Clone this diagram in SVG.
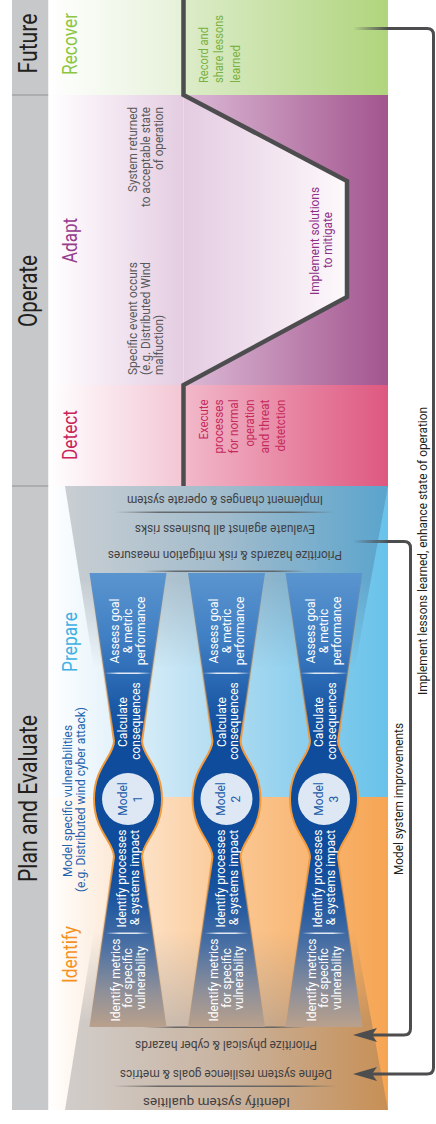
<svg xmlns="http://www.w3.org/2000/svg" width="436" height="1124" viewBox="0 0 436 1124">
<style>
text { font-family: Roboto, "Liberation Sans", Arial, sans-serif; }
.hd { font-size:25px; fill:#231f20; }
.sub { font-size:20px; }
.b { font-size:12.5px; }
.gray { fill:#58595b; }
.wt { fill:#ffffff; font-size:12px; }
.band { font-size:12.5px; fill:#414042; }
.mdl { fill:#1c5ba8; font-size:12px; }
.lbl { font-size:12px; fill:#231f20; }
.conn { fill:none; stroke:#4d4d4f; stroke-width:3; }
</style>
<defs>
  <linearGradient id="gRecL" gradientUnits="userSpaceOnUse" x1="48" y1="0" x2="183" y2="0"><stop offset="0" stop-color="#ffffff"/><stop offset="1" stop-color="#e6f1d9"/></linearGradient>
  <linearGradient id="gRecR" gradientUnits="userSpaceOnUse" x1="183" y1="0" x2="388" y2="0"><stop offset="0" stop-color="#dcecc9"/><stop offset="1" stop-color="#b0d57d"/></linearGradient>
  <linearGradient id="gAdL" gradientUnits="userSpaceOnUse" x1="48" y1="0" x2="183" y2="0"><stop offset="0" stop-color="#ffffff"/><stop offset="0.3" stop-color="#f8f0f7"/><stop offset="1" stop-color="#e4cce1"/></linearGradient>
  <linearGradient id="gAdN" gradientUnits="userSpaceOnUse" x1="183" y1="0" x2="347" y2="0"><stop offset="0" stop-color="#e4cbe1"/><stop offset="1" stop-color="#fdf9fc"/></linearGradient>
  <linearGradient id="gAdR" gradientUnits="userSpaceOnUse" x1="183" y1="0" x2="388" y2="0"><stop offset="0" stop-color="#dcbad6"/><stop offset="1" stop-color="#a3558e"/></linearGradient>
  <linearGradient id="gDetL" gradientUnits="userSpaceOnUse" x1="48" y1="0" x2="183" y2="0"><stop offset="0" stop-color="#ffffff"/><stop offset="1" stop-color="#f3c6d4"/></linearGradient>
  <linearGradient id="gDetR" gradientUnits="userSpaceOnUse" x1="183" y1="0" x2="388" y2="0"><stop offset="0" stop-color="#f2b9ca"/><stop offset="1" stop-color="#de5880"/></linearGradient>
  <linearGradient id="gBlue" gradientUnits="userSpaceOnUse" x1="48" y1="0" x2="388" y2="0"><stop offset="0" stop-color="#ffffff"/><stop offset="0.15" stop-color="#eaf5fb"/><stop offset="0.5" stop-color="#b2dcf1"/><stop offset="1" stop-color="#68c2ea"/></linearGradient>
  <linearGradient id="gOrange" gradientUnits="userSpaceOnUse" x1="48" y1="0" x2="388" y2="0"><stop offset="0" stop-color="#ffffff"/><stop offset="0.15" stop-color="#fdeee0"/><stop offset="0.5" stop-color="#fbcb9a"/><stop offset="1" stop-color="#f6a553"/></linearGradient>
  <linearGradient id="gFunTop" gradientUnits="userSpaceOnUse" x1="65" y1="0" x2="388" y2="0"><stop offset="0" stop-color="#c9ced2"/><stop offset="0.5" stop-color="#a0bbcc"/><stop offset="1" stop-color="#5aa4cd"/></linearGradient>
  <linearGradient id="gFunBot" gradientUnits="userSpaceOnUse" x1="65" y1="0" x2="388" y2="0"><stop offset="0" stop-color="#d1cdcb"/><stop offset="0.5" stop-color="#c9b39f"/><stop offset="1" stop-color="#c78f55"/></linearGradient>
  <linearGradient id="gMT" gradientUnits="userSpaceOnUse" x1="0" y1="486" x2="0" y2="700"><stop offset="0" stop-color="#fff"/><stop offset="0.44" stop-color="#fff"/><stop offset="0.85" stop-color="#000"/></linearGradient>
  <linearGradient id="gMB" gradientUnits="userSpaceOnUse" x1="0" y1="1110" x2="0" y2="900"><stop offset="0" stop-color="#fff"/><stop offset="0.42" stop-color="#fff"/><stop offset="0.85" stop-color="#000"/></linearGradient>
  <mask id="mT" maskUnits="userSpaceOnUse" x="0" y="480" width="436" height="230"><rect x="0" y="480" width="436" height="230" fill="url(#gMT)"/></mask>
  <mask id="mB" maskUnits="userSpaceOnUse" x="0" y="890" width="436" height="230"><rect x="0" y="890" width="436" height="230" fill="url(#gMB)"/></mask>
  <linearGradient id="gCol" gradientUnits="userSpaceOnUse" x1="0" y1="573" x2="0" y2="1027">
    <stop offset="0" stop-color="#5b95cf"/><stop offset="0.15" stop-color="#3f7ec3"/><stop offset="0.3" stop-color="#1a58a6"/><stop offset="0.36" stop-color="#0f4c9c"/><stop offset="0.64" stop-color="#0f4c9c"/><stop offset="0.72" stop-color="#1d56a0"/><stop offset="0.82" stop-color="#4a70a4"/><stop offset="0.92" stop-color="#8e8f99"/><stop offset="1" stop-color="#b9a18c"/>
  </linearGradient>
  <linearGradient id="gColS" gradientUnits="userSpaceOnUse" x1="0" y1="573" x2="0" y2="1027">
    <stop offset="0" stop-color="#f39a3a" stop-opacity="0"/><stop offset="0.28" stop-color="#f39a3a" stop-opacity="0.5"/><stop offset="0.36" stop-color="#f39a3a" stop-opacity="1"/><stop offset="0.64" stop-color="#f39a3a" stop-opacity="1"/><stop offset="0.72" stop-color="#f39a3a" stop-opacity="0.5"/><stop offset="1" stop-color="#f39a3a" stop-opacity="0"/>
  </linearGradient>
  <linearGradient id="gSep" x1="0" y1="0" x2="1" y2="0"><stop offset="0" stop-color="#58595b" stop-opacity="0"/><stop offset="0.2" stop-color="#58595b" stop-opacity="0.85"/><stop offset="0.8" stop-color="#58595b" stop-opacity="0.85"/><stop offset="1" stop-color="#58595b" stop-opacity="0"/></linearGradient>
  <linearGradient id="gDiv" x1="0" y1="0" x2="1" y2="0"><stop offset="0" stop-color="#ffffff" stop-opacity="0"/><stop offset="0.3" stop-color="#ffffff" stop-opacity="0.85"/><stop offset="0.7" stop-color="#ffffff" stop-opacity="0.85"/><stop offset="1" stop-color="#ffffff" stop-opacity="0"/></linearGradient>
  <linearGradient id="gFade" gradientUnits="userSpaceOnUse" x1="353" y1="0" x2="388" y2="0"><stop offset="0" stop-color="#4d4d4f" stop-opacity="0"/><stop offset="1" stop-color="#4d4d4f" stop-opacity="1"/></linearGradient>
  <marker id="arr" markerUnits="userSpaceOnUse" markerWidth="30" markerHeight="20" viewBox="-14 -10 30 20" refX="0" refY="0" orient="auto"><path d="M12,0 L-12,-7 L-7,0 L-12,7 Z" fill="#4d4d4f"/></marker>
  <path id="colShape" d="M -38.5,573 L 38.5,573 L 14,741 C 14,756 34,767 34,799 C 34,831 14,842 14,857 L 38.5,1027 L -38.5,1027 L -14,857 C -14,842 -34,831 -34,799 C -34,767 -14,756 -14,741 Z"/>
</defs>

<g id="header">
  <rect x="12" y="0" width="36.5" height="1110" fill="#c7c8ca"/>
  <rect x="12" y="94.5" width="36.5" height="1" fill="#8f9194"/>
  <rect x="12" y="485.5" width="36.5" height="1" fill="#8f9194"/>
  <text class="hd" transform="translate(37,43.5) rotate(-90)" text-anchor="middle" textLength="60" lengthAdjust="spacingAndGlyphs">Future</text>
  <text class="hd" transform="translate(37,291) rotate(-90)" text-anchor="middle" textLength="72" lengthAdjust="spacingAndGlyphs">Operate</text>
  <text class="hd" transform="translate(37,798.5) rotate(-90)" text-anchor="middle" textLength="167" lengthAdjust="spacingAndGlyphs">Plan and Evaluate</text>
</g>

<g id="recover">
  <rect x="48.5" y="0" width="135" height="95" fill="url(#gRecL)"/>
  <rect x="183.5" y="0" width="204.5" height="95" fill="url(#gRecR)"/>
  <text class="sub" fill="#8cc63f" transform="translate(76.5,75) rotate(-90)" textLength="62" lengthAdjust="spacingAndGlyphs">Recover</text>
  <g class="b" fill="#78b244">
    <text transform="translate(207.5,83) rotate(-90)" textLength="56" lengthAdjust="spacingAndGlyphs">Record and</text>
    <text transform="translate(223,83) rotate(-90)" textLength="68" lengthAdjust="spacingAndGlyphs">share lessons</text>
    <text transform="translate(239.5,83) rotate(-90)" textLength="38" lengthAdjust="spacingAndGlyphs">learned</text>
  </g>
</g>

<g id="adapt">
  <rect x="48.5" y="95" width="135" height="290" fill="url(#gAdL)"/>
  <polygon points="183.5,95 347,181 347,297 183.5,385" fill="url(#gAdN)"/>
  <polygon points="183.5,95 388,95 388,385 183.5,385 347,297 347,181" fill="url(#gAdR)"/>
  <text class="sub" fill="#973b8c" transform="translate(76.5,263) rotate(-90)" textLength="45" lengthAdjust="spacingAndGlyphs">Adapt</text>
  <g class="b gray">
    <text transform="translate(137,107) rotate(-90)" text-anchor="end" textLength="85" lengthAdjust="spacingAndGlyphs">System returned</text>
    <text transform="translate(150,107) rotate(-90)" text-anchor="end" textLength="100" lengthAdjust="spacingAndGlyphs">to acceptable state</text>
    <text transform="translate(163,107) rotate(-90)" text-anchor="end" textLength="63" lengthAdjust="spacingAndGlyphs">of operation</text>
    <text transform="translate(137,375) rotate(-90)" textLength="113" lengthAdjust="spacingAndGlyphs">Specific event occurs</text>
    <text transform="translate(150,375) rotate(-90)" textLength="113" lengthAdjust="spacingAndGlyphs">(e.g. Distributed Wind</text>
    <text transform="translate(163,375) rotate(-90)" textLength="60" lengthAdjust="spacingAndGlyphs">malfuction)</text>
  </g>
  <g class="b" fill="#8d2f85">
    <text transform="translate(319,241) rotate(-90)" text-anchor="middle" textLength="108" lengthAdjust="spacingAndGlyphs">Implement solutions</text>
    <text transform="translate(332,240) rotate(-90)" text-anchor="middle" textLength="56" lengthAdjust="spacingAndGlyphs">to mitigate</text>
  </g>
</g>

<g id="detect">
  <rect x="48.5" y="385" width="135" height="101" fill="url(#gDetL)"/>
  <rect x="183.5" y="385" width="204.5" height="101" fill="url(#gDetR)"/>
  <text class="sub" fill="#c9235b" transform="translate(76.5,460) rotate(-90)" textLength="50" lengthAdjust="spacingAndGlyphs">Detect</text>
  <g class="b" fill="#c52a5d" text-anchor="end">
    <text transform="translate(207.5,399.5) rotate(-90)" textLength="40" lengthAdjust="spacingAndGlyphs">Execute</text>
    <text transform="translate(222.9,399.5) rotate(-90)" textLength="54" lengthAdjust="spacingAndGlyphs">processes</text>
    <text transform="translate(238.3,399.5) rotate(-90)" textLength="54" lengthAdjust="spacingAndGlyphs">for normal</text>
    <text transform="translate(253.7,399.5) rotate(-90)" textLength="47" lengthAdjust="spacingAndGlyphs">operation</text>
    <text transform="translate(269.1,399.5) rotate(-90)" textLength="54" lengthAdjust="spacingAndGlyphs">and threat</text>
    <text transform="translate(284.5,399.5) rotate(-90)" textLength="52" lengthAdjust="spacingAndGlyphs">detetction</text>
  </g>
</g>

<g id="resilience-curve">
  <polyline points="183.5,0 183.5,95 347,181 347,297 183.5,385 183.5,486" fill="none" stroke="#4d4d4f" stroke-width="4.5"/>
</g>

<g id="plan-evaluate">
  <rect x="48.5" y="486" width="339.5" height="311" fill="url(#gBlue)"/>
  <rect x="48.5" y="797" width="339.5" height="313" fill="url(#gOrange)"/>
  <polygon points="65,486 388,486 349,700 99,700" fill="url(#gFunTop)" mask="url(#mT)"/>
  <polygon points="65,1110 388,1110 349,900 99,900" fill="url(#gFunBot)" mask="url(#mB)"/>
  <rect x="115" y="511.5" width="220" height="1.5" fill="url(#gSep)"/>
  <rect x="143" y="570.5" width="164" height="1.5" fill="url(#gSep)"/>
  <rect x="143" y="1026.5" width="164" height="1.5" fill="url(#gSep)"/>
  <rect x="113" y="1085.5" width="224" height="1.5" fill="url(#gSep)"/>
  <text class="sub" fill="#3eb1e2" transform="translate(76.5,672) rotate(-90)" textLength="60" lengthAdjust="spacingAndGlyphs">Prepare</text>
  <text class="sub" fill="#f5921e" transform="translate(76.5,983) rotate(-90)" textLength="57" lengthAdjust="spacingAndGlyphs">Identify</text>
  <g class="b" fill="#1f62ad" text-anchor="middle">
    <text transform="translate(72,801) rotate(-90)" textLength="152" lengthAdjust="spacingAndGlyphs">Model specific vulnerabilities</text>
    <text transform="translate(85,799.5) rotate(-90)" textLength="185" lengthAdjust="spacingAndGlyphs">(e.g. Distributed wind cyber attack)</text>
  </g>
  <g class="band" text-anchor="middle">
    <text transform="translate(225,496) rotate(180)" textLength="196" lengthAdjust="spacingAndGlyphs">Implement changes &amp; operate system</text>
    <text transform="translate(225,524.5) rotate(180)" textLength="180" lengthAdjust="spacingAndGlyphs">Evaluate against all business risks</text>
    <text transform="translate(225,551) rotate(180)" textLength="234" lengthAdjust="spacingAndGlyphs">Prioritize hazards &amp; risk mitigation measures</text>
    <text transform="translate(226,1041) rotate(180)" textLength="182" lengthAdjust="spacingAndGlyphs">Prioritize physical &amp; cyber hazards</text>
    <text transform="translate(226,1069.5) rotate(180)" textLength="212" lengthAdjust="spacingAndGlyphs">Define system resilience goals &amp; metrics</text>
    <text transform="translate(216.5,1097.5) rotate(180)" textLength="147" lengthAdjust="spacingAndGlyphs">Identify system qualities</text>
  </g>
</g>

<g id="model-1" transform="translate(128,0)">
  <use href="#colShape" fill="url(#gCol)" stroke="url(#gColS)" stroke-width="2"/>
  <rect x="-24" y="672.5" width="48" height="1.5" fill="url(#gDiv)"/>
  <rect x="-22" y="932.5" width="44" height="1.5" fill="url(#gDiv)"/>
  <circle cx="0" cy="799" r="26" fill="#dde8f4"/>
  <g class="wt" text-anchor="middle">
    <text transform="translate(-9,631) rotate(-90)">Assess goal</text>
    <text transform="translate(4,631) rotate(-90)">&amp; metric</text>
    <text transform="translate(17,631) rotate(-90)">performance</text>
    <text transform="translate(-1,722) rotate(-90)">Calculate</text>
    <text transform="translate(11.5,721) rotate(-90)">consequences</text>
    <text transform="translate(-2,878.5) rotate(-90)">Identify processes</text>
    <text transform="translate(11,877.5) rotate(-90)">&amp; systems impact</text>
    <text transform="translate(-8.5,980) rotate(-90)">Identify metrics</text>
    <text transform="translate(4,978) rotate(-90)">for specific</text>
    <text transform="translate(16.5,978) rotate(-90)">vulnerability</text>
  </g>
  <g class="mdl" text-anchor="middle">
    <text transform="translate(-1.5,799) rotate(-90)">Model</text>
    <text transform="translate(13.5,799) rotate(-90)">1</text>
  </g>
</g>

<g id="model-2" transform="translate(226.5,0)">
  <use href="#colShape" fill="url(#gCol)" stroke="url(#gColS)" stroke-width="2"/>
  <rect x="-24" y="672.5" width="48" height="1.5" fill="url(#gDiv)"/>
  <rect x="-22" y="932.5" width="44" height="1.5" fill="url(#gDiv)"/>
  <circle cx="0" cy="799" r="26" fill="#dde8f4"/>
  <g class="wt" text-anchor="middle">
    <text transform="translate(-9,631) rotate(-90)">Assess goal</text>
    <text transform="translate(4,631) rotate(-90)">&amp; metric</text>
    <text transform="translate(17,631) rotate(-90)">performance</text>
    <text transform="translate(-1,722) rotate(-90)">Calculate</text>
    <text transform="translate(11.5,721) rotate(-90)">consequences</text>
    <text transform="translate(-2,878.5) rotate(-90)">Identify processes</text>
    <text transform="translate(11,877.5) rotate(-90)">&amp; systems impact</text>
    <text transform="translate(-8.5,980) rotate(-90)">Identify metrics</text>
    <text transform="translate(4,978) rotate(-90)">for specific</text>
    <text transform="translate(16.5,978) rotate(-90)">vulnerability</text>
  </g>
  <g class="mdl" text-anchor="middle">
    <text transform="translate(-1.5,799) rotate(-90)">Model</text>
    <text transform="translate(13.5,799) rotate(-90)">2</text>
  </g>
</g>

<g id="model-3" transform="translate(324,0)">
  <use href="#colShape" fill="url(#gCol)" stroke="url(#gColS)" stroke-width="2"/>
  <rect x="-24" y="672.5" width="48" height="1.5" fill="url(#gDiv)"/>
  <rect x="-22" y="932.5" width="44" height="1.5" fill="url(#gDiv)"/>
  <circle cx="0" cy="799" r="26" fill="#dde8f4"/>
  <g class="wt" text-anchor="middle">
    <text transform="translate(-9,631) rotate(-90)">Assess goal</text>
    <text transform="translate(4,631) rotate(-90)">&amp; metric</text>
    <text transform="translate(17,631) rotate(-90)">performance</text>
    <text transform="translate(-1,722) rotate(-90)">Calculate</text>
    <text transform="translate(11.5,721) rotate(-90)">consequences</text>
    <text transform="translate(-2,878.5) rotate(-90)">Identify processes</text>
    <text transform="translate(11,877.5) rotate(-90)">&amp; systems impact</text>
    <text transform="translate(-8.5,980) rotate(-90)">Identify metrics</text>
    <text transform="translate(4,978) rotate(-90)">for specific</text>
    <text transform="translate(16.5,978) rotate(-90)">vulnerability</text>
  </g>
  <g class="mdl" text-anchor="middle">
    <text transform="translate(-1.5,799) rotate(-90)">Model</text>
    <text transform="translate(13.5,799) rotate(-90)">3</text>
  </g>
</g>

<g id="connectors">
  <rect x="353" y="27" width="35" height="3" fill="url(#gFade)"/>
  <path class="conn" d="M 388 28.5 H 427 Q 433.5 28.5 433.5 35 V 1067.5 Q 433.5 1074 427 1074 H 365" marker-end="url(#arr)"/>
  <rect x="353" y="540" width="35" height="3" fill="url(#gFade)"/>
  <path class="conn" d="M 388 541.5 H 404 Q 410.5 541.5 410.5 548 V 1028.5 Q 410.5 1035 404 1035 H 365" marker-end="url(#arr)"/>
  <text class="lbl" transform="translate(426.5,551) rotate(-90)" text-anchor="middle" textLength="288" lengthAdjust="spacingAndGlyphs">Implement lessons learned, enhance state of operation</text>
  <text class="lbl" transform="translate(403,799) rotate(-90)" text-anchor="middle" textLength="152" lengthAdjust="spacingAndGlyphs">Model system improvements</text>
</g>
</svg>
